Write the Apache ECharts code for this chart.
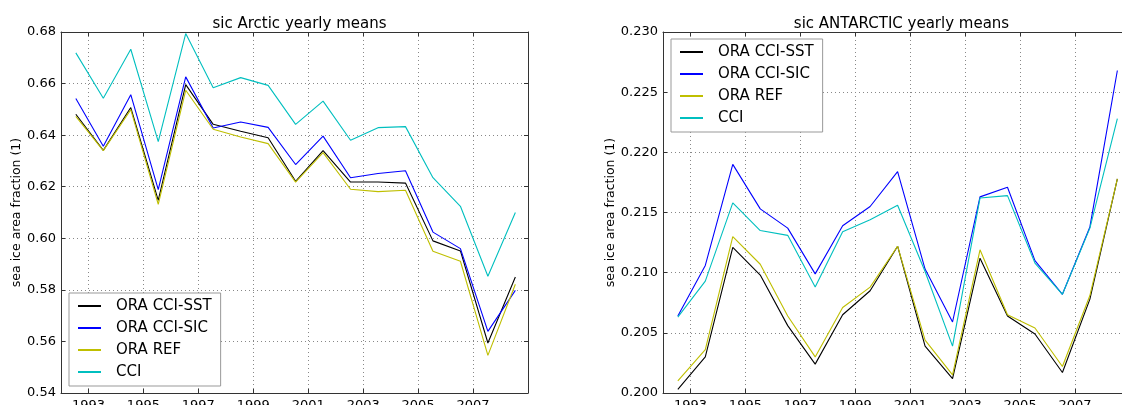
<!DOCTYPE html>
<html>
<head>
<meta charset="utf-8">
<script src="https://cdn.jsdelivr.net/npm/echarts@6/dist/echarts.min.js"></script>
<style>
  html, body { margin: 0; padding: 0; background: #fff; }
  #chart { width: 1122px; height: 405px; }
</style>
</head>
<body>
<div id="chart"></div>
<script>
// Yearly means of sea ice area fraction, 1992-2008
const years = [1992, 1993, 1994, 1995, 1996, 1997, 1998, 1999, 2000, 2001, 2002, 2003, 2004, 2005, 2006, 2007, 2008];
const tickYears = [1993, 1995, 1997, 1999, 2001, 2003, 2005, 2007];

const arcticSST = [0.6481, 0.6341, 0.6507, 0.6147, 0.6596, 0.6442, 0.6415, 0.6390, 0.6221, 0.6340, 0.6218, 0.6218, 0.6214, 0.5990, 0.5951, 0.5594, 0.5850];
const arcticSIC = [0.6542, 0.6357, 0.6557, 0.6189, 0.6626, 0.6428, 0.6451, 0.6430, 0.6286, 0.6396, 0.6235, 0.6251, 0.6262, 0.6024, 0.5960, 0.5639, 0.5798];
const arcticREF = [0.6473, 0.6340, 0.6499, 0.6132, 0.6574, 0.6423, 0.6393, 0.6367, 0.6218, 0.6332, 0.6190, 0.6181, 0.6186, 0.5950, 0.5911, 0.5546, 0.5822];
const arcticCCI = [0.6719, 0.6543, 0.6733, 0.6375, 0.6794, 0.6584, 0.6623, 0.6593, 0.6442, 0.6532, 0.6380, 0.6429, 0.6433, 0.6235, 0.6124, 0.5853, 0.6100];

const antarcticSST = [0.2003, 0.2030, 0.2121, 0.2098, 0.2056, 0.2024, 0.2065, 0.2085, 0.2122, 0.2039, 0.2012, 0.2112, 0.2064, 0.2049, 0.2017, 0.2078, 0.2178];
const antarcticSIC = [0.2064, 0.2106, 0.2190, 0.2153, 0.2137, 0.2099, 0.2139, 0.2155, 0.2184, 0.2103, 0.2059, 0.2163, 0.2171, 0.2110, 0.2082, 0.2138, 0.2268];
const antarcticREF = [0.2010, 0.2036, 0.2130, 0.2107, 0.2064, 0.2030, 0.2071, 0.2088, 0.2122, 0.2044, 0.2015, 0.2119, 0.2065, 0.2054, 0.2022, 0.2081, 0.2178];
const antarcticCCI = [0.2063, 0.2093, 0.2158, 0.2135, 0.2131, 0.2088, 0.2134, 0.2144, 0.2156, 0.2101, 0.2039, 0.2162, 0.2164, 0.2108, 0.2082, 0.2137, 0.2228];

const seriesNames = ['ORA CCI-SST', 'ORA CCI-SIC', 'ORA REF', 'CCI'];
const seriesColors = ['#000000', '#0000ff', '#bfbf00', '#00bfbf'];

// each yearly mean is plotted at mid-July of its year
const MID_YEAR = 0.54;
const FONT = 'DejaVu Sans';

const grids = [
  { left: 61, top: 32, width: 467, height: 361, outerBoundsMode: 'none', containLabel: false },
  { left: 663, top: 32, width: 467, height: 361, outerBoundsMode: 'none', containLabel: false }
];

function bottomX(gi) {
  return {
    type: 'value', gridIndex: gi, position: 'bottom', min: 1992, max: 2009,
    axisLine: { show: true, onZero: false, lineStyle: { color: '#333', width: 1 } },
    axisTick: { show: true, inside: true, length: 4, customValues: tickYears, lineStyle: { color: '#333' } },
    axisLabel: { customValues: tickYears, margin: 6, fontSize: 13, color: '#000', fontFamily: FONT,
                 formatter: v => String(v) },
    splitLine: { show: true, lineStyle: { color: '#888', width: 1, type: [1, 3] } }
  };
}
function topX(gi) {
  return {
    type: 'value', gridIndex: gi, position: 'top', min: 1992, max: 2009,
    axisLine: { show: true, onZero: false, lineStyle: { color: '#333', width: 1 } },
    axisTick: { show: true, inside: true, length: 4, customValues: tickYears, lineStyle: { color: '#333' } },
    axisLabel: { show: false },
    splitLine: { show: false }
  };
}
function leftY(gi, min, max, step, digits, gap) {
  return {
    type: 'value', gridIndex: gi, position: 'left', min: min, max: max, interval: step,
    name: 'sea ice area fraction (1)', nameLocation: 'middle', nameGap: gap,
    nameTextStyle: { fontSize: 12.5, color: '#000', fontFamily: FONT },
    axisLine: { show: true, onZero: false, lineStyle: { color: '#333', width: 1 } },
    axisTick: { show: true, inside: true, length: 4, lineStyle: { color: '#333' } },
    axisLabel: { margin: 5, fontSize: 13, color: '#000', fontFamily: FONT,
                 formatter: v => v.toFixed(digits) },
    splitLine: { show: true, lineStyle: { color: '#888', width: 1, type: [1, 3] } }
  };
}
function rightY(gi, min, max, step) {
  return {
    type: 'value', gridIndex: gi, position: 'right', min: min, max: max, interval: step,
    axisLine: { show: true, onZero: false, lineStyle: { color: '#333', width: 1 } },
    axisTick: { show: true, inside: true, length: 4, lineStyle: { color: '#333' } },
    axisLabel: { show: false },
    splitLine: { show: false }
  };
}

function lineSeries(name, color, values, xi, yi) {
  return {
    type: 'line', name: name, xAxisIndex: xi, yAxisIndex: yi,
    data: years.map((y, i) => [y + MID_YEAR, values[i]]),
    symbol: 'none', showSymbol: false,
    lineStyle: { color: color, width: 1.1 },
    itemStyle: { color: color },
    emphasis: { disabled: true }
  };
}

function legendBox(left, top) {
  return {
    orient: 'vertical', left: left, top: top,
    data: seriesNames.map((n, i) => ({ name: n, icon: 'rect', itemStyle: { color: seriesColors[i] } })),
    itemWidth: 23, itemHeight: 2, itemGap: 4,
    padding: [4, 9, 5, 9],
    borderColor: '#999', borderWidth: 1, backgroundColor: '#fff',
    selectedMode: false,
    textStyle: { fontSize: 15, color: '#000', fontFamily: FONT, lineHeight: 18, padding: [0, 0, 0, 10] }
  };
}

const arctic = [arcticSST, arcticSIC, arcticREF, arcticCCI];
const antarctic = [antarcticSST, antarcticSIC, antarcticREF, antarcticCCI];

const option = {
  animation: false,
  backgroundColor: '#fff',
  textStyle: { fontFamily: FONT },
  title: [
    { text: 'sic Arctic yearly means', left: 294.5, top: 12, textAlign: 'center',
      textStyle: { fontSize: 15, fontWeight: 'normal', color: '#000', fontFamily: FONT } },
    { text: 'sic ANTARCTIC yearly means', left: 896.5, top: 12, textAlign: 'center',
      textStyle: { fontSize: 15, fontWeight: 'normal', color: '#000', fontFamily: FONT } }
  ],
  grid: grids,
  xAxis: [bottomX(0), topX(0), bottomX(1), topX(1)],
  yAxis: [
    leftY(0, 0.54, 0.68, 0.02, 2, 38), rightY(0, 0.54, 0.68, 0.02),
    leftY(1, 0.200, 0.230, 0.005, 3, 45), rightY(1, 0.200, 0.230, 0.005)
  ],
  legend: [legendBox(69, 293), legendBox(671, 39)],
  series: [
    ...seriesNames.map((n, i) => lineSeries(n, seriesColors[i], arctic[i], 0, 0)),
    ...seriesNames.map((n, i) => lineSeries(n, seriesColors[i], antarctic[i], 2, 2))
  ]
};

const chart = echarts.init(document.getElementById('chart'), null, { renderer: 'canvas' });
chart.setOption(option);
</script>
</body>
</html>
